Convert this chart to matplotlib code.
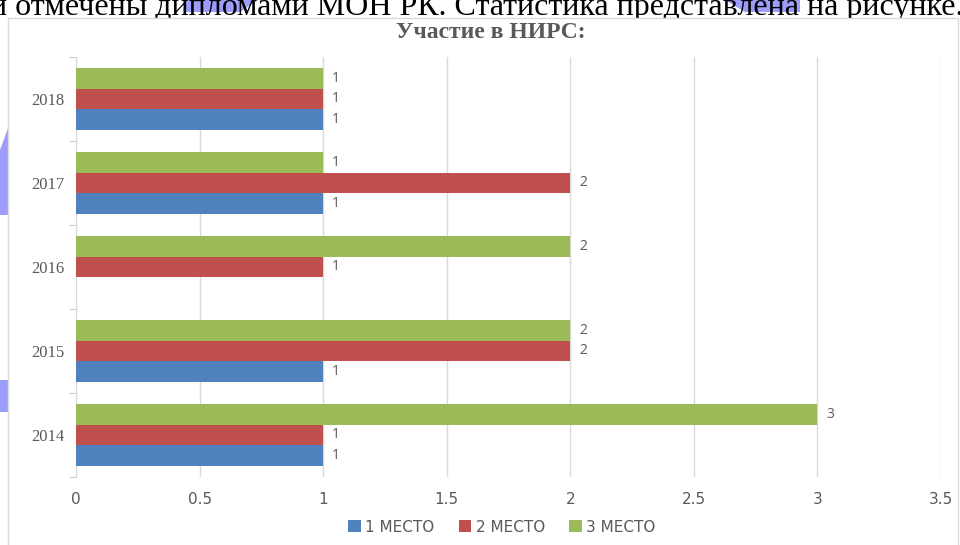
import numpy as np
import matplotlib.pyplot as plt
from matplotlib.patches import Polygon, Rectangle

years = ['2014', '2015', '2016', '2017', '2018']
place1 = [1, 1, 0, 1, 1]
place2 = [1, 2, 1, 2, 1]
place3 = [3, 2, 2, 1, 1]
series_names = ['1 МЕСТО', '2 МЕСТО', '3 МЕСТО']
colors = ['#4f81bd', '#c0504d', '#9bbb59']

W, H = 960, 545
fig = plt.figure(figsize=(9.6, 5.45), dpi=100)

def px(x, y):
    return (x / W, 1 - y / H)

# decorative background blobs of the page
lav = '#9c9cfb'
for pts in [[(185, 0), (258, 0), (240, 12), (185, 12)],
            [(725, 0), (800, 0), (800, 12), (745, 12)],
            [(0, 150), (8, 128), (8, 215), (0, 215)],
            [(0, 380), (8, 380), (8, 412), (0, 412)]]:
    fig.patches.append(Polygon([px(*p) for p in pts], closed=True, transform=fig.transFigure,
                               facecolor=lav, edgecolor='none', zorder=0))

fig.text(px(-10, 0)[0], px(0, 15)[1], 'и отмечены дипломами МОН РК. Статистика представлена на рисунке.',
         family='Liberation Serif', fontsize=23, color='black', va='baseline', ha='left', zorder=1)

# chart frame
fig.patches.append(Rectangle(px(8, 560), (958 - 8) / W, (560 - 18) / H, transform=fig.transFigure,
                             facecolor='white', edgecolor='#d9d9d9', lw=1, zorder=2))

left, right = px(76, 0)[0], px(941, 0)[0]
bottom, top = px(0, 477)[1], px(0, 57)[1]
ax = fig.add_axes([left, bottom, right - left, top - bottom], zorder=3)
ax.patch.set_alpha(0)

y = np.arange(len(years))
h = 0.246
for i, (vals, name, c) in enumerate(zip([place1, place2, place3], series_names, colors)):
    bars = ax.barh(y + (i - 1) * h, vals, height=h, color=c, label=name, zorder=3)
    for b, v in zip(bars, vals):
        if v > 0:
            ax.text(v + 0.035, b.get_y() + h / 2, str(v), va='center', ha='left',
                    fontsize=10, color='#595959', family='Open Sans')

ax.set_xlim(0, 3.5)
ax.set_ylim(-0.5, 4.5)
ax.set_xticks(np.arange(0, 3.6, 0.5))
ax.set_xticklabels(['0', '0.5', '1', '1.5', '2', '2.5', '3', '3.5'], fontsize=11, color='#595959')
ax.set_yticks(y)
ax.set_yticklabels(years, family='Liberation Serif', fontsize=12, color='#595959')
ax.set_yticks(np.arange(-0.5, 4.6, 1), minor=True)
ax.tick_params(axis='y', which='major', length=0, pad=8)
ax.tick_params(axis='y', which='minor', length=5, color='#bfbfbf')
ax.tick_params(axis='x', length=0, pad=11)
ax.grid(axis='x', color='#d9d9d9', lw=1, zorder=0)
for s in ['top', 'right', 'bottom']:
    ax.spines[s].set_visible(False)
ax.spines['left'].set_color('#d9d9d9')

fig.text(px(491, 0)[0], px(0, 32)[1], 'Участие в НИРС:', family='Liberation Serif', fontweight='bold',
         fontsize=17, color='#595959', ha='center', va='center', zorder=4)

ax.legend(loc='center', bbox_to_anchor=(px(502, 0)[0], px(0, 527)[1]), bbox_transform=fig.transFigure,
          ncol=3, frameon=False, fontsize=11, handlelength=0.8, handleheight=0.8,
          columnspacing=1.6, handletextpad=0.3, labelcolor='#595959')

fig.savefig('out.png', dpi=100)
